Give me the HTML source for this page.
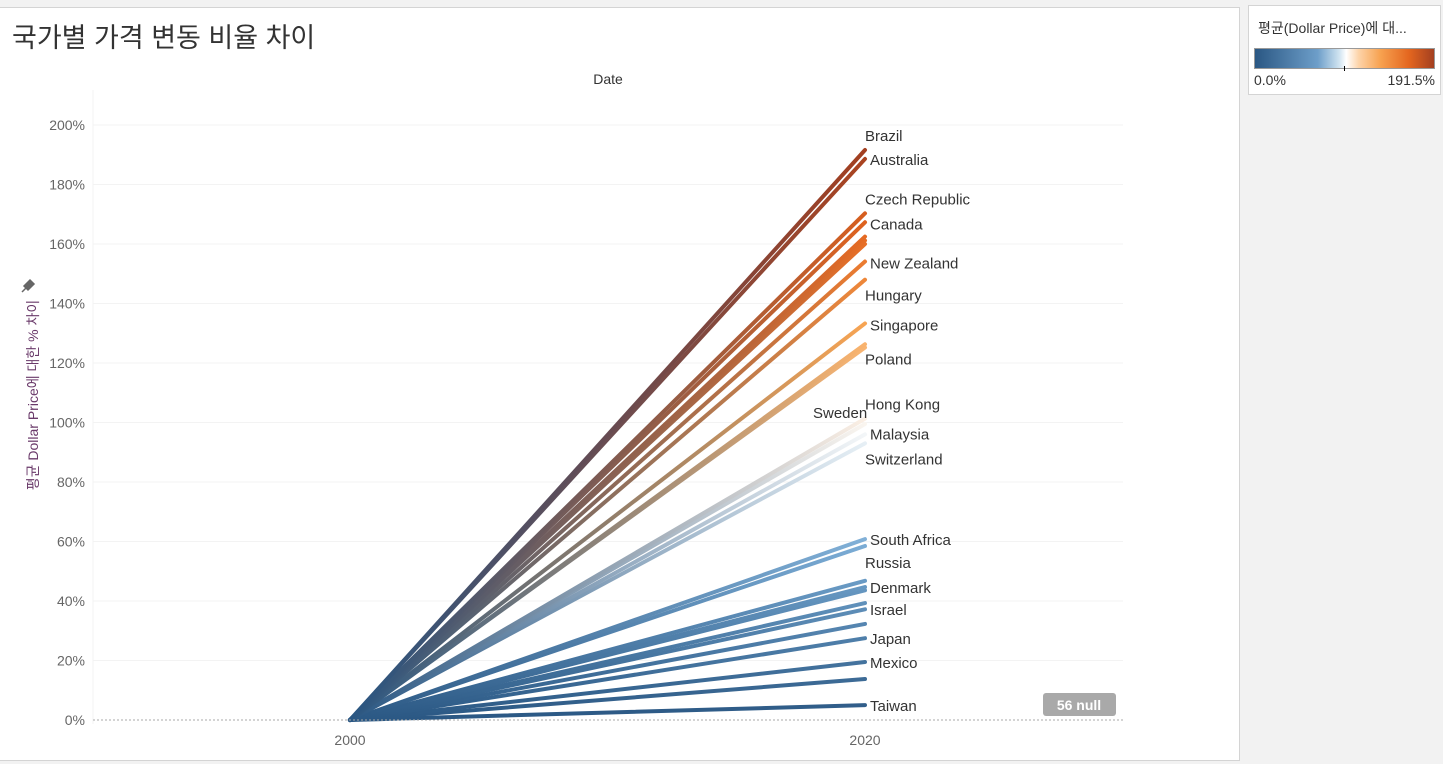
<!DOCTYPE html>
<html><head><meta charset="utf-8">
<style>
body{margin:0;width:1443px;height:764px;background:#f2f2f2;font-family:"Liberation Sans","Noto Sans CJK KR",sans-serif;overflow:hidden;position:relative}
#panel{position:absolute;left:0;top:7px;width:1239px;height:752px;background:#fff;border-top:1px solid #d4d4d4;border-right:1px solid #d4d4d4;border-bottom:1px solid #d4d4d4}
#legend{position:absolute;left:1248px;top:5px;width:191px;height:88px;background:#fff;border:1px solid #d4d4d4}
</style></head><body>
<div id="panel"></div>
<svg width="1443" height="764" style="position:absolute;left:0;top:0" id="chart">
<text x="12" y="47" font-size="27" fill="#333">국가별 가격 변동 비율 차이</text>
<text x="608" y="84" font-size="14" fill="#333" text-anchor="middle">Date</text>
<g transform="translate(38,395) rotate(-90)">
<text x="0" y="0" font-size="14" fill="#6a3a6a" text-anchor="middle">평균 Dollar Price에 대한 % 차이</text>
</g>
<path d="M24,286 l6,-6 l4,4 l-6,6z M26,288 l-4,4" fill="#666" stroke="#666" stroke-width="1.5"/>
<g id="grid"></g><g id="lines"></g><g id="labels"></g>
<line x1="93" y1="720" x2="1123" y2="720" stroke="#aaa" stroke-dasharray="2,2"/>
<g><rect x="1043" y="693" width="73" height="23" rx="3" fill="#a9a9a9"/>
<text x="1079" y="710" font-size="14" font-weight="bold" fill="#fff" text-anchor="middle">56 null</text></g>
</svg>
<div id="legend">
<div style="position:absolute;left:9px;top:12px;font-size:14px;color:#333">평균(Dollar Price)에 대...</div>
<div style="position:absolute;left:5px;top:42px;width:179px;height:19px;border:1px solid #999;background:linear-gradient(to right,#2a5783,#6d9ec9 35%,#cfe3f0 47%,#fff 51%,#fdd3a8 58%,#f7a250 70%,#e4661f 86%,#a33f20)"></div>
<div style="position:absolute;left:95px;top:60px;width:1px;height:5px;background:#000"></div>
<div style="position:absolute;left:5px;top:66px;font-size:14px;color:#333">0.0%</div>
<div style="position:absolute;right:5px;top:66px;font-size:14px;color:#333">191.5%</div>
</div>
<script>
const names=["Brazil","Australia","Czech Republic","Canada","","","","New Zealand","Hungary","Singapore","Poland","","Hong Kong","Sweden","Malaysia","Switzerland","South Africa","Russia","","Denmark","","Israel","","","Japan","Mexico","","Taiwan"];
const values=[191.6,188.6,170.3,167.3,162.5,161.2,160.0,154.1,148.0,133.3,126.3,125.2,101.3,99.5,96.0,93.0,60.8,58.5,46.8,44.7,43.6,39.3,37.2,32.3,27.5,19.5,13.8,5.0];
const labelDy=[-14,1,-14,2,0,0,0,2,16,2,15,0,-14,-11,0,16,1,17,0,1,0,7,0,0,1,1,0,1];
const labelDx=[0,5,0,5,0,0,0,5,0,5,0,0,0,-52,5,0,5,0,0,5,0,5,0,0,5,5,0,5];
const yTicks=[0,20,40,60,80,100,120,140,160,180,200];
const xTicks=["2000","2020"];
const ns="http://www.w3.org/2000/svg";
const x0=350,x1=865,y0=720,k=2.975,vmax=191.5;
const Y=v=>y0-v*k;
const X=i=>i===0?x0:x1;
const stops=[[0,[42,87,131]],[0.3,[120,170,212]],[0.45,[200,222,238]],[0.51,[250,250,250]],[0.58,[253,211,168]],[0.7,[247,162,80]],[0.86,[228,102,31]],[1,[163,63,32]]];
function col(v){let t=Math.max(0,Math.min(1,v/vmax));for(let i=1;i<stops.length;i++){if(t<=stops[i][0]){const a=stops[i-1],b=stops[i],f=(t-a[0])/(b[0]-a[0]);return "rgb("+a[1].map((c,j)=>Math.round(c+(b[1][j]-c)*f)).join(",")+")";}}return "rgb(163,63,32)";}
const svg=document.getElementById('chart');
const defs=document.createElementNS(ns,'defs');svg.insertBefore(defs,svg.firstChild);
const grid=document.getElementById('grid');
yTicks.forEach(t=>{
 if(t>0){const l=document.createElementNS(ns,'line');l.setAttribute('x1',93);l.setAttribute('x2',1123);l.setAttribute('y1',Y(t));l.setAttribute('y2',Y(t));l.setAttribute('stroke','#f3f3f3');
 
 grid.appendChild(l);}
 const tx=document.createElementNS(ns,'text');tx.setAttribute('x',85);tx.setAttribute('y',Y(t)+5);tx.setAttribute('text-anchor','end');tx.setAttribute('font-size','14');tx.setAttribute('fill','#666');tx.textContent=t+'%';
 
 grid.appendChild(tx);
});
const va=document.createElementNS(ns,'line');va.setAttribute('x1',93);va.setAttribute('x2',93);va.setAttribute('y1',90);va.setAttribute('y2',724);va.setAttribute('stroke','#f3f3f3');grid.appendChild(va);
xTicks.forEach((t,i)=>{const tx=document.createElementNS(ns,'text');tx.setAttribute('x',X(i));tx.setAttribute('y',745);tx.setAttribute('text-anchor','middle');tx.setAttribute('font-size','14');tx.setAttribute('fill','#666');tx.textContent=t;
 
 grid.appendChild(tx);});
const lg=document.getElementById('lines'),lb=document.getElementById('labels');
const order=values.map((v,i)=>i).sort((a,b)=>values[a]-values[b]);
order.forEach(i=>{const v=values[i];
 const g=document.createElementNS(ns,'linearGradient');g.setAttribute('id','g'+i);g.setAttribute('gradientUnits','userSpaceOnUse');g.setAttribute('x1',X(0));g.setAttribute('y1',Y(0));g.setAttribute('x2',X(1));g.setAttribute('y2',Y(v));
 g.innerHTML='<stop offset="0" stop-color="'+col(0)+'"/><stop offset="1" stop-color="'+col(v)+'"/>';defs.appendChild(g);
 const l=document.createElementNS(ns,'line');l.setAttribute('x1',X(0));l.setAttribute('y1',Y(0));l.setAttribute('x2',X(1));l.setAttribute('y2',Y(v));l.setAttribute('stroke','url(#g'+i+')');l.setAttribute('stroke-width','4');l.setAttribute('stroke-linecap','round');
 
 lg.appendChild(l);
 if(names[i]){const tx=document.createElementNS(ns,'text');tx.setAttribute('x',X(1)+labelDx[i]);tx.setAttribute('y',Y(v)+labelDy[i]+5);tx.setAttribute('font-size','15');tx.setAttribute('fill','#333');tx.textContent=names[i];
 
 lb.appendChild(tx);}
});
</script>
</body></html>
